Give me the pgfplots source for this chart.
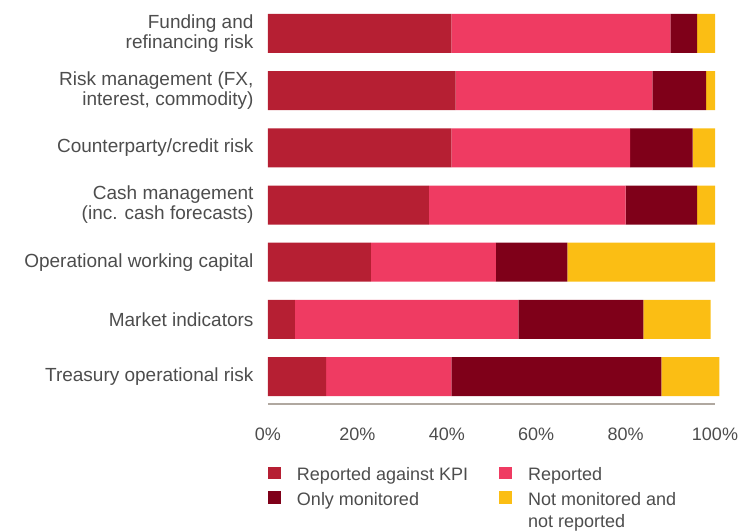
\documentclass[border=0pt]{standalone}
\usepackage{pgfplots}
\pgfplotsset{compat=1.18}
\usepackage{pgfplotstable}
\usepackage{fontspec}
\setmainfont{Liberation Sans}
\definecolor{ckpi}{HTML}{B61F33}
\definecolor{crep}{HTML}{EF3B62}
\definecolor{cmon}{HTML}{7F0019}
\definecolor{cnot}{HTML}{FBBE14}
\definecolor{ctext}{HTML}{4D4D4D}
\definecolor{caxis}{HTML}{B0A8A0}
\pgfplotstableread{
y kpi rep mon not
6 41 49 6 4
5 42 44 12 2
4 41 40 14 5
3 36 44 16 4
2 23 28 16 33
1 6 50 28 15
0 13 28 47 13
}\datatable
\begin{document}
\begin{tikzpicture}
\useasboundingbox (-268bp,-128bp) rectangle (472bp,404bp);
\begin{axis}[
  at={(0,0)}, anchor=south west,
  scale only axis,
  width=447bp, height=399.1bp,
  xbar stacked,
  bar width=39bp,
  xmin=0, xmax=100,
  ymin=-0.48, ymax=6.5,
  axis x line*=bottom,
  axis y line*=left,
  x axis line style={draw=caxis, line width=2bp, -},
  y axis line style={draw=none},
  major tick length=0pt,
  xtick={0,20,40,60,80,100},
  xticklabel={\pgfmathprintnumber{\tick}\%},
  /pgf/number format/assume math mode=true,
  ytick={0,1,2,3,4,5,6},
  yticklabels={Treasury operational risk, Market indicators, Operational working capital, {Cash management\\(inc. cash forecasts)}, Counterparty/credit risk, {Risk management (FX,\\interest, commodity)}, {Funding and\\refinancing risk}},
  xticklabel style={font=\fontsize{18bp}{21.5bp}\selectfont, text=ctext, yshift=-20bp},
  yticklabel style={font=\fontsize{19bp}{20bp}\selectfont, text=ctext, align=right, xshift=-11bp},
  clip=false,
  legend columns=2,
  legend image code/.code={\fill[#1] (0bp,1.5bp) rectangle (13bp,14bp); \path[draw=none, fill=none] (0bp,1bp) rectangle (27bp,2bp);},
  legend style={draw=none, at={(0,0)}, anchor=north west, yshift=-62bp, inner sep=0pt, outer sep=0pt,
    font=\fontsize{18bp}{22bp}\selectfont, text=ctext,
    cells={anchor=base west, text height=13bp, text depth=4bp, inner sep=3bp},
    /tikz/every even column/.append style={column sep=29bp},
    row sep=6bp},
]
\addplot[fill=ckpi, draw=none] table[x=kpi, y=y] {\datatable};
\addlegendentry{Reported against KPI}
\addplot[fill=crep, draw=none] table[x=rep, y=y] {\datatable};
\addlegendentry{Reported}
\addplot[fill=cmon, draw=none] table[x=mon, y=y] {\datatable};
\addlegendentry{Only monitored}
\addplot[fill=cnot, draw=none] table[x=not, y=y] {\datatable};
\addlegendentry{\begin{tabular}[t]{@{}l@{}}Not monitored and\\not reported\end{tabular}}
\end{axis}
\end{tikzpicture}
\end{document}
